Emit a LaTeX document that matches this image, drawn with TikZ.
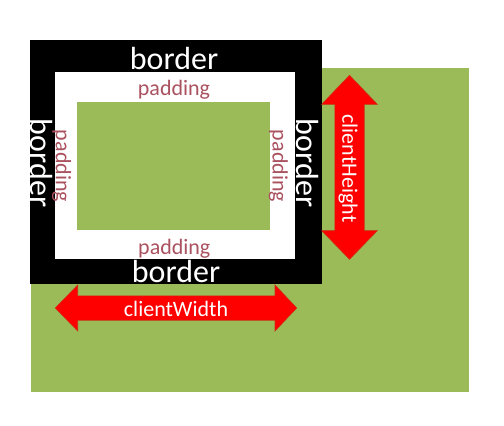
\documentclass[tikz,border=0pt]{standalone}
\usepackage{fontspec}
\setmainfont{Carlito}
\usetikzlibrary{positioning}

\definecolor{boxgreen}{RGB}{155,187,89}
\definecolor{padred}{RGB}{170,82,95}
\definecolor{arrowred}{RGB}{255,0,0}
\definecolor{arrowedge}{RGB}{205,45,20}

\begin{document}
\begin{tikzpicture}[
        x=1pt, y=-1pt,
        every node/.style={inner sep=0pt, align=center},
        bordertext/.style={text=white, font=\fontsize{32}{32}\selectfont},
        padtext/.style={text=padred, font=\fontsize{22}{22}\selectfont},
        clienttext/.style={text=white, font=\fontsize{22}{22}\selectfont},
        bigarrow/.style={fill=arrowred, draw=arrowedge, line width=0.6pt, line join=miter}
    ]
    \useasboundingbox (0,0) rectangle (504,426);

    % Boxes
    \fill[boxgreen] (31,68) rectangle (469,391.5);
    \fill[black] (29.5,40) rectangle (321.5,284);
    \fill[white] (55,71.5) rectangle (295,259);
    \fill[boxgreen] (76.5,102) rectangle (270,230);

    % Arrows
    \draw[bigarrow] (349.5,75.3) -- (377.3,104.3) -- (364.2,104.3) -- (364.2,230.7)
        -- (377.3,230.7) -- (349.5,259.3) -- (321.7,230.7) -- (334.8,230.7)
        -- (334.8,104.3) -- (321.7,104.3) -- cycle;
    \draw[bigarrow] (55.3,308) -- (77.7,285) -- (77.7,295.8) -- (275,295.8)
        -- (275,285) -- (296.7,308) -- (275,331) -- (275,320.2)
        -- (77.7,320.2) -- (77.7,331) -- cycle;

    % Labels
    \node[bordertext] (bordertop) at (174,58.3) {border};
    \node[bordertext] (borderbottom) at (176,271.7) {border};
    \node[bordertext, rotate=-90] (borderleft) at (41.3,163) {border};
    \node[bordertext, rotate=-90] (borderright) at (307.5,163) {border};

    \node[padtext] (padtop) at (174,90) {padding};
    \node[padtext] (padbottom) at (174.3,248.3) {padding};
    \node[padtext, rotate=-90] (padleft) at (61.7,166) {padding};
    \node[padtext, rotate=-90] (padright) at (278.3,166) {padding};

    \node[clienttext, rotate=-90] (cheight) at (348,168.5) {clientHeight};
    \node[clienttext] (cwidth) at (176,309) {clientWidth};

\end{tikzpicture}
\end{document}
